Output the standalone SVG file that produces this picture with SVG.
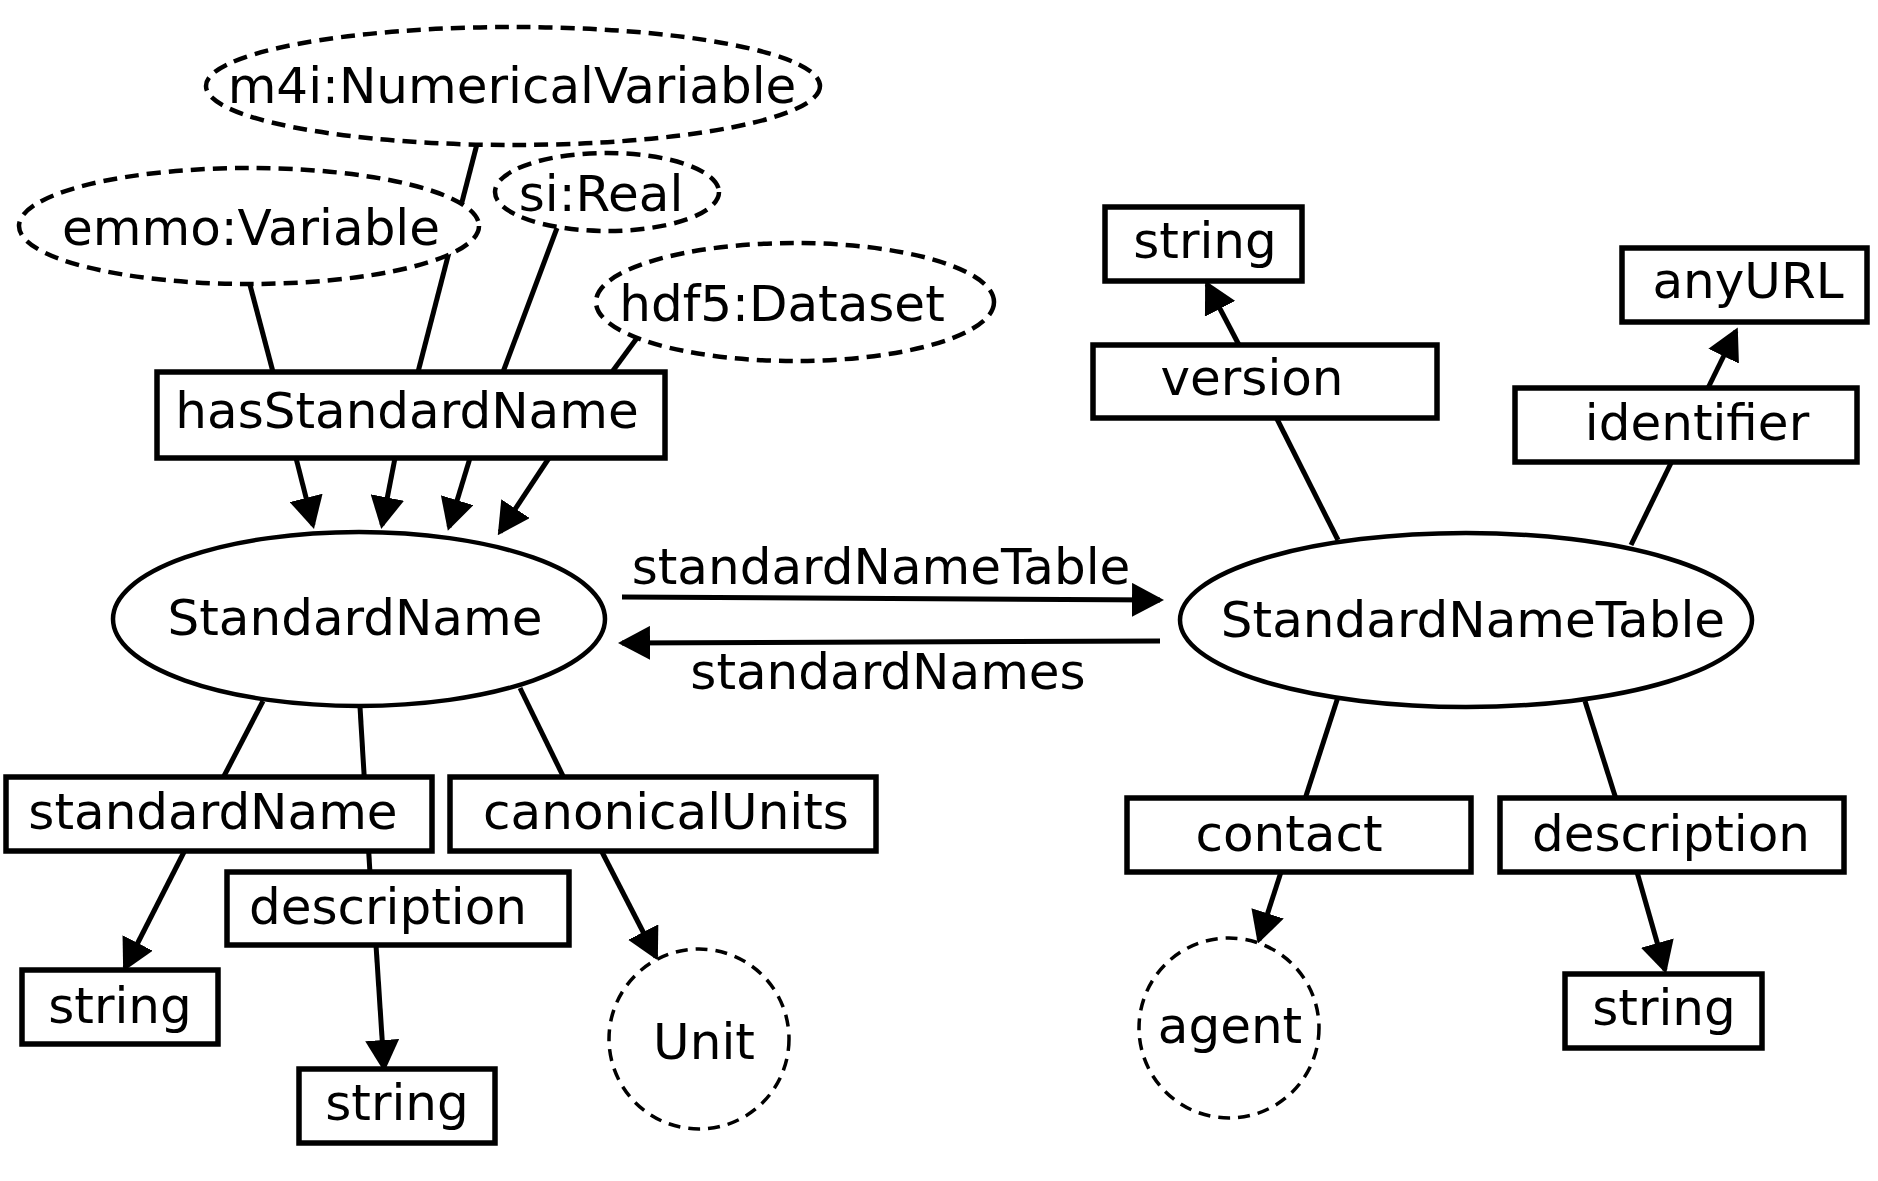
<svg xmlns="http://www.w3.org/2000/svg" width="1878" height="1181" viewBox="0 0 1878 1181">
<style>
text{font-family:"DejaVu Sans","Liberation Sans",sans-serif;font-size:50px;fill:#000;text-anchor:middle}
.box{fill:#fff;stroke:#000;stroke-width:5.5}
.ell{fill:#fff;stroke:#000;stroke-width:4.5}
.dash{fill:#fff;stroke:#000;stroke-width:4.5;stroke-dasharray:14 8}
.dashc{fill:#fff;stroke:#000;stroke-width:3.5;stroke-dasharray:12 8}
.ln{stroke:#000;stroke-width:5;fill:none}
.ar{stroke:#000;stroke-width:5;fill:none;marker-end:url(#ah)}
</style>
<defs>
<marker id="ah" viewBox="0 0 32 34" refX="28" refY="17" markerWidth="32" markerHeight="34" markerUnits="userSpaceOnUse" orient="auto">
<path d="M0,0 L32,17 L0,34 z" fill="#000"/>
</marker>
</defs>
<rect width="1878" height="1181" fill="#fff"/>
<g id="connectors">
<line class="ln" x1="250" y1="285" x2="273" y2="372"/>
<line class="ln" x1="477" y1="144" x2="418" y2="372"/>
<line class="ln" x1="557" y1="228" x2="503" y2="372"/>
<line class="ln" x1="637" y1="338" x2="612" y2="372"/>
<line class="ar" x1="296" y1="458" x2="313" y2="525"/>
<line class="ar" x1="395" y1="458" x2="382" y2="525"/>
<line class="ar" x1="470" y1="458" x2="449" y2="527"/>
<line class="ar" x1="549" y1="458" x2="500" y2="532"/>
<line class="ar" x1="622" y1="597" x2="1160" y2="600"/>
<line class="ar" x1="1160" y1="641" x2="622" y2="643"/>
<line class="ln" x1="263" y1="701" x2="223" y2="778"/>
<line class="ln" x1="360" y1="707" x2="370" y2="873"/>
<line class="ln" x1="520" y1="688" x2="564" y2="778"/>
<line class="ar" x1="184" y1="852" x2="125" y2="968"/>
<line class="ar" x1="376" y1="945" x2="384" y2="1068"/>
<line class="ar" x1="602" y1="852" x2="656" y2="957"/>
<line class="ln" x1="1338" y1="540" x2="1276" y2="417"/>
<line class="ar" x1="1239" y1="345" x2="1207" y2="284"/>
<line class="ln" x1="1631" y1="545" x2="1672" y2="461"/>
<line class="ar" x1="1708" y1="388" x2="1736" y2="331"/>
<line class="ln" x1="1338" y1="697" x2="1305" y2="799"/>
<line class="ln" x1="1585" y1="701" x2="1616" y2="799"/>
<line class="ar" x1="1281" y1="872" x2="1259" y2="940"/>
<line class="ar" x1="1637" y1="872" x2="1665" y2="970"/>
</g>
<g id="m4i-NumericalVariable"><ellipse class="dash" cx="513" cy="86" rx="307" ry="59"/><text x="512" y="103">m4i:NumericalVariable</text></g>
<g id="emmo-Variable"><ellipse class="dash" cx="249" cy="226" rx="230" ry="58"/><text x="251" y="245">emmo:Variable</text></g>
<g id="si-Real"><ellipse class="dash" cx="607" cy="192" rx="112" ry="39"/><text x="601" y="211">si:Real</text></g>
<g id="hdf5-Dataset"><ellipse class="dash" cx="795" cy="302" rx="199" ry="59"/><text x="782" y="321">hdf5:Dataset</text></g>
<g id="hasStandardName"><rect class="box" x="157" y="372" width="508" height="86"/><text x="407" y="428">hasStandardName</text></g>
<g id="StandardName"><ellipse class="ell" cx="359" cy="619" rx="246" ry="87"/><text x="355" y="635">StandardName</text></g>
<g id="label-standardNameTable"><text x="881" y="584">standardNameTable</text></g>
<g id="label-standardNames"><text x="888" y="689">standardNames</text></g>
<g id="StandardNameTable"><ellipse class="ell" cx="1466" cy="620" rx="286" ry="87"/><text x="1473" y="637">StandardNameTable</text></g>
<g id="standardName"><rect class="box" x="6" y="777" width="426" height="74"/><text x="213" y="829">standardName</text></g>
<g id="canonicalUnits"><rect class="box" x="450" y="777" width="426" height="74"/><text x="666" y="829">canonicalUnits</text></g>
<g id="description-left"><rect class="box" x="227" y="872" width="342" height="73"/><text x="388" y="924">description</text></g>
<g id="string-1"><rect class="box" x="22" y="970" width="196" height="74"/><text x="120" y="1023">string</text></g>
<g id="string-2"><rect class="box" x="299" y="1069" width="196" height="74"/><text x="397" y="1120">string</text></g>
<g id="Unit"><circle class="dashc" cx="699" cy="1039" r="90"/><text x="704" y="1059">Unit</text></g>
<g id="string-top"><rect class="box" x="1105" y="207" width="197" height="74"/><text x="1205" y="258">string</text></g>
<g id="version"><rect class="box" x="1093" y="345" width="344" height="73"/><text x="1252" y="395">version</text></g>
<g id="anyURL"><rect class="box" x="1622" y="248" width="245" height="74"/><text x="1748" y="298">anyURL</text></g>
<g id="identifier"><rect class="box" x="1515" y="388" width="342" height="74"/><text x="1697" y="440">identifier</text></g>
<g id="contact"><rect class="box" x="1127" y="798" width="344" height="74"/><text x="1289" y="851">contact</text></g>
<g id="description-right"><rect class="box" x="1500" y="798" width="344" height="74"/><text x="1671" y="851">description</text></g>
<g id="agent"><circle class="dashc" cx="1229" cy="1028" r="90"/><text x="1230" y="1043">agent</text></g>
<g id="string-right"><rect class="box" x="1565" y="974" width="197" height="74"/><text x="1664" y="1025">string</text></g>
</svg>
